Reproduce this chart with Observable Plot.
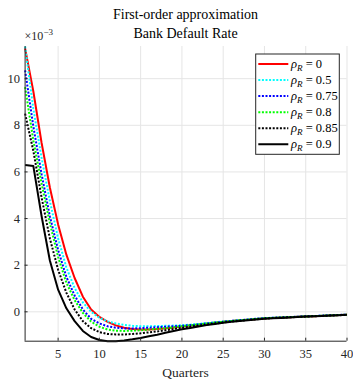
<!DOCTYPE html>
<html><head><meta charset="utf-8">
<script src="https://cdn.jsdelivr.net/npm/d3@7"></script>
<script src="https://cdn.jsdelivr.net/npm/@observablehq/plot@0.6"></script>
<style>body{margin:0;background:#fff}</style>
</head><body><div id="chart"></div>
<script>
// ---- data ----
const quarters = [1,2,3,4,5,6,7,8,9,10,11,12,13,14,15,16,17,18,19,20,21,22,23,24,25,26,27,28,29,30,31,32,33,34,35,36,37,38,39,40];
const rho0   = [11.3,9.45,7.24,5.33,3.75,2.45,1.45,0.65,0.1,-0.22,-0.43,-0.58,-0.68,-0.74,-0.76,-0.76,-0.74,-0.71,-0.67,-0.63,-0.59,-0.55,-0.51,-0.47,-0.43,-0.395,-0.365,-0.335,-0.305,-0.275,-0.26,-0.245,-0.23,-0.215,-0.2,-0.185,-0.17,-0.155,-0.14,-0.125];
const rho05  = [11.38,8.7,6.6,4.75,3.15,1.9,1.02,0.4,0.0,-0.26,-0.41,-0.5,-0.56,-0.6,-0.62,-0.62,-0.61,-0.6,-0.59,-0.57,-0.55,-0.52,-0.49,-0.45,-0.42,-0.39,-0.36,-0.33,-0.3,-0.27,-0.255,-0.24,-0.225,-0.21,-0.195,-0.18,-0.165,-0.15,-0.135,-0.12];
const rho075 = [10.36,7.95,5.9,4.1,2.65,1.5,0.7,0.1,-0.3,-0.5,-0.62,-0.68,-0.71,-0.71,-0.7,-0.68,-0.66,-0.64,-0.62,-0.6,-0.57,-0.54,-0.5,-0.46,-0.425,-0.39,-0.36,-0.33,-0.3,-0.27,-0.255,-0.24,-0.225,-0.21,-0.195,-0.18,-0.165,-0.15,-0.135,-0.12];
const rho08  = [9.64,7.35,5.5,3.8,2.35,1.25,0.5,-0.05,-0.42,-0.64,-0.76,-0.81,-0.82,-0.81,-0.79,-0.76,-0.73,-0.7,-0.66,-0.62,-0.58,-0.54,-0.5,-0.46,-0.43,-0.395,-0.365,-0.335,-0.305,-0.275,-0.26,-0.245,-0.23,-0.215,-0.2,-0.185,-0.17,-0.155,-0.14,-0.125];
const rho085 = [8.5,6.9,4.9,3.15,1.8,0.82,0.1,-0.4,-0.7,-0.87,-0.95,-0.97,-0.97,-0.95,-0.92,-0.88,-0.84,-0.79,-0.74,-0.69,-0.64,-0.59,-0.55,-0.5,-0.46,-0.42,-0.385,-0.35,-0.32,-0.29,-0.27,-0.25,-0.235,-0.22,-0.205,-0.19,-0.175,-0.16,-0.145,-0.13];
const rho09  = [6.3,6.25,4.1,2.2,0.95,0.15,-0.4,-0.82,-1.08,-1.21,-1.26,-1.26,-1.23,-1.18,-1.12,-1.05,-0.98,-0.9,-0.82,-0.75,-0.69,-0.63,-0.57,-0.52,-0.47,-0.43,-0.39,-0.36,-0.33,-0.3,-0.28,-0.26,-0.24,-0.22,-0.205,-0.19,-0.175,-0.16,-0.145,-0.13];
const seriesNames = ["0","0.5","0.75","0.8","0.85","0.9"];
const seriesValues = [rho0, rho05, rho075, rho08, rho085, rho09];
const seriesColors = ["#ff0000","#00ffff","#0000ff","#00ff00","#000000","#000000"];
const seriesDash = [null,"2,1.6","2,1.6","2,1.6","2,1.6",null];
const xTicks = [5,10,15,20,25,30,35,40];
const yTicks = [0,2,4,6,8,10];
const title1 = "First-order approximation";
const title2 = "Bank Default Rate";
const xLabel = "Quarters";

// ---- layout ----
const W = 353, H = 379;
const mL = 24.6, mR = 6.5, mT = 46, mB = 38.3;
const plotW = W - mL - mR, plotH = H - mT - mB;
const allV = seriesValues.flat();
const yMin = d3.min(allV), yMax = d3.max(allV);
const axisColor = "#262626", gridColor = "#e5e5e5";
const font = "'Liberation Serif', 'DejaVu Serif', serif";

const rows = [];
seriesValues.forEach((vals, i) => vals.forEach((v, j) => rows.push({q: quarters[j], v, s: seriesNames[i]})));

const lineMarks = seriesNames.map((name, i) => Plot.line(rows.filter(r => r.s === name), {
  x: "q", y: "v", stroke: seriesColors[i], strokeWidth: 2,
  strokeDasharray: seriesDash[i], strokeLinecap: "butt", strokeLinejoin: "round"
}));

const plot = Plot.plot({
  width: W, height: H,
  marginLeft: mL, marginRight: mR, marginTop: mT, marginBottom: mB,
  style: {fontFamily: font, fontSize: "12px", color: axisColor, background: "#fff"},
  x: {domain: [1, 40]},
  y: {domain: [yMin, yMax]},
  marks: [
    Plot.gridX(xTicks, {stroke: gridColor, strokeOpacity: 1}),
    Plot.gridY(yTicks, {stroke: gridColor, strokeOpacity: 1}),
    Plot.axisX(xTicks, {tickSize: 0, tickPadding: 8, label: null, fontSize: 12.5, fontFamily: font, fill: axisColor}),
    Plot.axisY(yTicks, {tickSize: 0, tickPadding: 5, label: null, fontSize: 12.5, fontFamily: font, fill: axisColor}),
    ...lineMarks,
    Plot.ruleX([1], {stroke: axisColor, strokeWidth: 1}),
    Plot.ruleY([yMin], {stroke: axisColor, strokeWidth: 1}),
    Plot.tickX(xTicks, {x: d => d, insetTop: plotH - 3, stroke: axisColor}),
    Plot.tickY(yTicks, {y: d => d, insetRight: plotW - 3, stroke: axisColor})
  ]
});
document.getElementById("chart").appendChild(plot);

const svg = d3.select(plot);
const cx = mL + plotW / 2;
svg.append("text").attr("x", cx).attr("y", 19).attr("text-anchor", "middle")
  .style("font-family", font).style("font-size", "14px").attr("fill", "#000").text(title1);
svg.append("text").attr("x", cx).attr("y", 37.5).attr("text-anchor", "middle")
  .style("font-family", font).style("font-size", "14px").attr("fill", "#000").text(title2);
svg.append("text").attr("x", cx).attr("y", 377).attr("text-anchor", "middle")
  .style("font-family", font).style("font-size", "13.5px").attr("fill", axisColor).text(xLabel);
const mult = svg.append("text").attr("x", mL).attr("y", 40).attr("text-anchor", "start")
  .style("font-family", font).style("font-size", "12px").attr("fill", axisColor);
mult.append("tspan").text("×10");
mult.append("tspan").attr("dy", -5).style("font-size", "9px").text("−3");

// legend
const lg = svg.append("g");
const lx = 255.7, ly = 54, lw = 83.6, lh = 100.3;
lg.append("rect").attr("x", lx).attr("y", ly).attr("width", lw).attr("height", lh)
  .attr("fill", "#fff").attr("stroke", axisColor).attr("stroke-width", 1);
seriesNames.forEach((name, i) => {
  const yy = 64 + i * 16.05;
  lg.append("line").attr("x1", 258.3).attr("x2", 288.3).attr("y1", yy).attr("y2", yy)
    .attr("stroke", seriesColors[i]).attr("stroke-width", 2)
    .attr("stroke-dasharray", seriesDash[i]);
  const t = lg.append("text").attr("x", 291).attr("y", yy + 4).attr("text-anchor", "start")
    .style("font-family", font).style("font-size", "12.5px").attr("fill", "#000");
  t.append("tspan").style("font-style", "italic").text("ρ");
  t.append("tspan").style("font-style", "italic").style("font-size", "9px").attr("dy", 2.5).text("R");
  t.append("tspan").attr("dy", -2.5).text(" = " + name);
});
</script>
</body></html>
